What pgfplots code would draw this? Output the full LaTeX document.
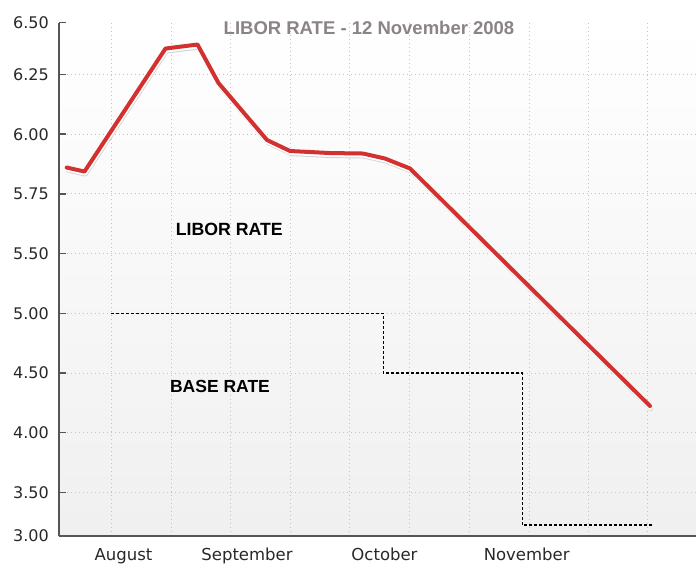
\documentclass[border=0pt]{standalone}
\usepackage{fontspec}
\setmainfont{DejaVu Sans}
\newfontfamily\labfont{Liberation Sans}
\usepackage{pgfplots}
\pgfplotsset{compat=1.18}
\definecolor{axisgray}{RGB}{85,85,85}
\definecolor{gridgray}{RGB}{195,195,195}
\definecolor{liborred}{RGB}{211,48,48}
\definecolor{titlegray}{RGB}{140,132,132}
\definecolor{ticktext}{RGB}{40,40,40}
\begin{document}
\begin{tikzpicture}
\useasboundingbox (0pt,0pt) rectangle (696pt,-564pt);
\begin{axis}[
  at={(59pt,-536pt)}, anchor=south west,
  scale only axis, width=637pt, height=513.3pt,
  xmin=59, xmax=696, ymin=0.268, ymax=8.869,
  clip=false,
  axis x line*=bottom, axis y line*=left,
  axis line style={draw=axisgray, line width=1.8pt, -},
  axis background/.style={shade, top color=white, bottom color=black!6},
  xtick={123.5,247,384.5,526.7},
  xticklabels={August,September,October,November},
  major x tick style={draw=none},
  minor xtick={111,171,230,290,349.3,409.3,469,529,588.3,647.7},
  minor x tick style={draw=none},
  xminorgrids=true, xmajorgrids=false,
  ytick={1,2,3,4,5,6,7,8},
  yticklabels={3.50,4.00,4.50,5.00,5.50,5.75,6.00,6.25},
  extra y ticks={0.268,8.869},
  extra y tick labels={3.00,6.50},
  extra y tick style={grid=none},
  ymajorgrids=true,
  grid style={draw=gridgray, line width=0.9pt, dash pattern=on 1pt off 3pt},
  minor grid style={draw=gridgray, line width=0.9pt, dash pattern=on 1pt off 3pt},
  tick align=inside,
  major tick length=7pt,
  y tick style={draw=axisgray, line width=1.5pt},
  /pgf/number format/assume math mode=true,
  yticklabel style={font=\fontsize{16}{19}\selectfont, text=ticktext, anchor=east, inner sep=0pt, xshift=-10pt},
  xticklabel style={font=\fontsize{16.5}{19}\selectfont, text=ticktext, anchor=base, inner sep=0pt, yshift=-24.8pt},
]
% base rate (step line)
\addplot[const plot, black, line width=1.1pt, dash pattern=on 3pt off 2pt] coordinates {
  (111,4) (383.3,3) (522.3,0.452) (653,0.452)
};
% LIBOR rate: shadow, halo, line
\addplot[black!18, line width=4pt, line join=round, line cap=round, xshift=1pt, yshift=-3pt] coordinates {
  (66.7,6.442) (84.5,6.375) (165.5,8.436) (197.5,8.503) (218.5,7.858) (267,6.903)
  (290,6.719) (330,6.685) (363,6.677) (385,6.593) (410,6.426) (650,2.446)
};
\addplot[white, line width=4.5pt, line join=round, line cap=round, xshift=0.5pt, yshift=-1.8pt] coordinates {
  (66.7,6.442) (84.5,6.375) (165.5,8.436) (197.5,8.503) (218.5,7.858) (267,6.903)
  (290,6.719) (330,6.685) (363,6.677) (385,6.593) (410,6.426) (650,2.446)
};
\addplot[liborred, line width=4pt, line join=round, line cap=round] coordinates {
  (66.7,6.442) (84.5,6.375) (165.5,8.436) (197.5,8.503) (218.5,7.858) (267,6.903)
  (290,6.719) (330,6.685) (363,6.677) (385,6.593) (410,6.426) (650,2.446)
};
\node[anchor=base, inner sep=0pt, font=\labfont\bfseries\fontsize{18.5}{20}\selectfont, text=titlegray] at (axis cs:369,8.663) {LIBOR RATE - 12 November 2008};
\node[anchor=base, inner sep=0pt, font=\labfont\bfseries\fontsize{17.7}{20}\selectfont, text=black] at (axis cs:229.3,5.295) {LIBOR RATE};
\node[anchor=base, inner sep=0pt, font=\labfont\bfseries\fontsize{17.5}{20}\selectfont, text=black] at (axis cs:220,2.669) {BASE RATE};
\end{axis}
\end{tikzpicture}
\end{document}
